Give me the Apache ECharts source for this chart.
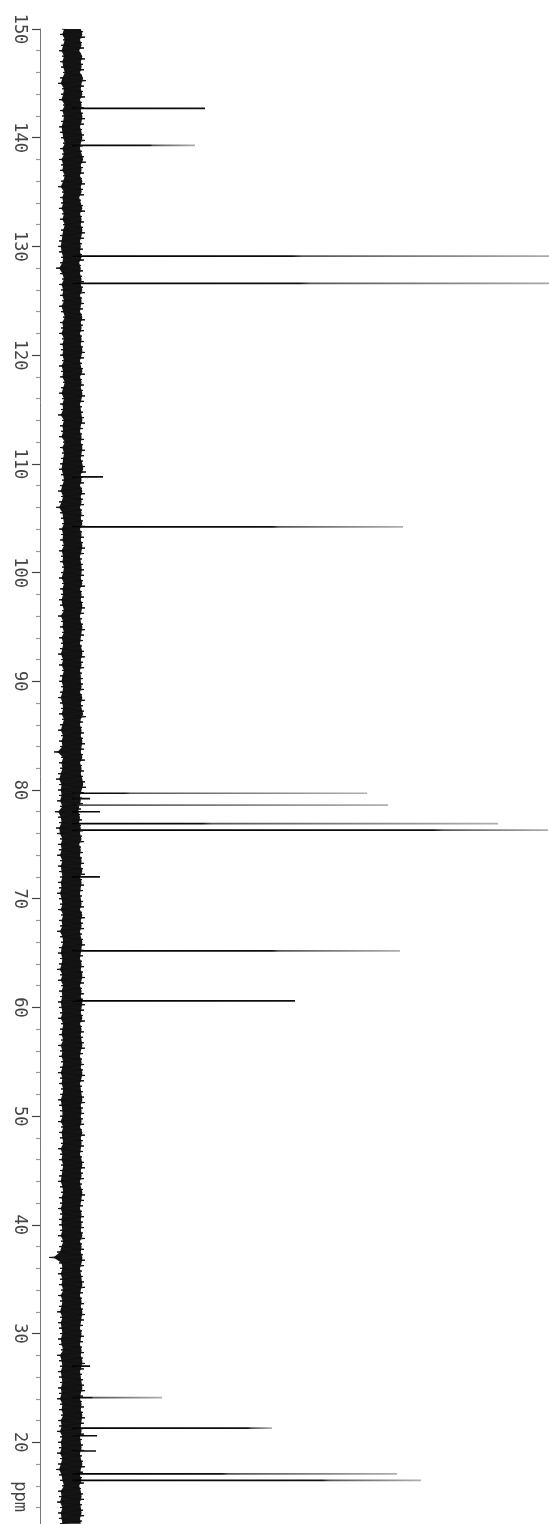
<!DOCTYPE html>
<html><head><meta charset="utf-8">
<script src="https://cdn.jsdelivr.net/npm/echarts@6/dist/echarts.min.js"></script>
<style>html,body{margin:0;padding:0;background:#fff}#c{width:549px;height:1524px}</style>
</head><body><div id="c"></div>
<script>
// ---- axis ----
const tickLabels = [150, 140, 130, 120, 110, 100, 90, 80, 70, 60, 50, 40, 30, 20];
const axisUnit = 'ppm';

// ---- baseline noise envelope (0.5 ppm steps from 150 down to 12.5) ----
const noiseStartPpm = 150;
const noiseStepPpm = 0.5;
const noiseLeft = [
 -10,-12,-9,-11,-13,-10,-12,-11,-9,-12,-14,-10,-11,-13,-9,-12,-10,-11,-13,-12,
 -11,-9,-12,-10,-13,-11,-12,-9,-11,-14,-10,-12,-11,-13,-10,-12,-9,-11,-12,-13,
 -14,-13,-11,-12,-16,-12,-10,-13,-11,-12,-10,-13,-11,-9,-12,-11,-13,-10,-12,-11,
 -12,-10,-13,-11,-12,-9,-11,-13,-10,-12,-11,-14,-10,-12,-11,-13,-9,-12,-10,-11,
 -12,-13,-11,-10,-12,-14,-11,-13,-16,-12,-11,-10,-13,-11,-12,-10,-13,-11,-12,-10,
 -11,-13,-10,-12,-11,-13,-12,-10,-14,-11,-12,-10,-13,-11,-12,-14,-11,-13,-10,-12,
 -13,-11,-12,-14,-12,-11,-13,-10,-12,-14,-11,-13,-12,-18,-11,-13,-12,-14,-16,-13,
 -14,-13,-15,-12,-17,-14,-13,-16,-15,-12,-14,-13,-15,-12,-14,-13,-12,-14,-13,-15,
 -13,-12,-14,-11,-13,-12,-15,-12,-11,-13,-14,-12,-13,-15,-12,-14,-11,-13,-12,-14,
 -13,-12,-14,-11,-12,-13,-11,-14,-12,-13,-11,-12,-14,-12,-13,-11,-12,-14,-13,-12,
 -12,-14,-11,-13,-12,-11,-14,-12,-13,-11,-12,-13,-14,-12,-11,-13,-12,-14,-12,-13,
 -13,-12,-14,-11,-13,-15,-23,-13,-12,-14,-12,-13,-11,-14,-12,-13,-15,-12,-14,-13,
 -12,-14,-13,-11,-15,-13,-12,-14,-13,-12,-14,-13,-15,-12,-13,-11,-14,-13,-15,-12,
 -14,-13,-15,-12,-14,-16,-13,-12,-10,-14,-13,-15,-12,-14,-13,-12
];
const noiseRight = [
 11,13,10,12,9,13,11,12,10,14,12,11,13,10,12,11,13,12,10,12,
 13,11,10,12,14,11,12,10,13,11,12,9,11,13,10,12,11,13,12,10,
 11,10,12,9,11,10,12,11,13,10,12,11,10,13,11,12,10,12,11,13,
 12,10,11,13,10,12,11,13,12,10,11,12,13,11,10,12,11,13,12,11,
 13,14,11,12,10,13,11,12,10,12,11,13,10,12,11,13,12,10,11,12,
 12,11,13,10,12,11,13,12,10,11,13,12,11,10,12,13,11,12,10,11,
 11,12,10,13,11,12,14,11,10,12,11,13,12,11,13,10,12,11,13,14,
 12,10,11,9,8,10,9,11,10,12,9,11,10,12,11,13,10,12,11,10,
 11,12,10,13,11,12,10,11,13,12,11,10,12,11,13,12,10,12,11,13,
 12,11,13,10,12,11,12,13,11,10,12,11,13,12,10,11,12,13,11,12,
 11,12,10,13,11,12,11,10,12,13,11,12,10,11,13,12,11,10,12,11,
 12,11,13,10,12,11,13,12,10,11,12,13,11,10,12,11,13,12,11,10,
 12,11,10,12,11,13,12,10,11,12,13,11,10,12,11,13,12,11,12,10,
 11,12,10,11,13,11,10,12,9,11,12,10,11,12,10,11
];

// ---- peaks: position (ppm), full height, and height of the dark part ----
const peakPpm    = [142.7, 139.3, 129.1, 126.6, 108.8, 104.2, 79.7, 79.2, 78.6, 78.0, 76.9, 76.3, 72.0, 65.2, 60.6, 27.0, 24.1, 21.3, 20.6, 19.2, 17.1, 16.5];
const peakHeight = [133,   123,   490,   500,   31,    331,   295,  18,   316,  28,   426,  476,  28,   328,  223,  18,   90,   200,  25,   24,   325,  349];
const peakDark   = [133,   78,    220,   228,   31,    200,   53,   18,   5,    28,   131,  361,  28,   200,  223,  18,   20,   175,  25,   24,   150,  250];

const chart = echarts.init(document.getElementById('c'), null, {renderer: 'canvas'});

// zig-zag trace through the noise envelope
const noiseTrace = [];
for (let k = 0; k < noiseLeft.length; k++) {
  const p = noiseStartPpm - noiseStepPpm * k;
  noiseTrace.push([noiseLeft[k], p]);
  noiseTrace.push([noiseRight[k], p - noiseStepPpm / 2]);
}

const option = {
  animation: false,
  backgroundColor: '#ffffff',
  grid: {left: 40, right: 0, top: 29, bottom: -27, outerBoundsMode: 'none'},
  xAxis: {type: 'value', min: -32, max: 477, show: false, splitLine: {show: false}},
  yAxis: {
    type: 'value', min: 10, max: 150, interval: 10, position: 'left',
    splitLine: {show: false},
    axisLine: {show: true, onZero: false, lineStyle: {color: '#777', width: 1}},
    axisTick: {show: true, length: 8, lineStyle: {color: '#444', width: 1.2}},
    minorTick: {show: true, splitNumber: 5, length: 4, lineStyle: {color: '#999', width: 1.2}},
    axisLabel: {
      rotate: -90, margin: 12, fontFamily: 'DejaVu Sans Mono', fontSize: 17, color: '#444',
      formatter: v => tickLabels.includes(v) ? String(v) : ''
    }
  },
  series: [
    {
      type: 'custom', name: 'noiseCore', silent: true, clip: true,
      data: [0],
      renderItem: function (params, api) {
        const pts = [];
        for (let k = 0; k < noiseLeft.length; k++) {
          pts.push(api.coord([noiseLeft[k] * 0.8, noiseStartPpm - noiseStepPpm * k]));
        }
        for (let k = noiseRight.length - 1; k >= 0; k--) {
          pts.push(api.coord([noiseRight[k] * 0.8, noiseStartPpm - noiseStepPpm * k]));
        }
        return {type: 'polygon', shape: {points: pts}, style: {fill: '#151515'}};
      }
    },
    {
      type: 'line', name: 'noise', silent: true, symbol: 'none',
      data: noiseTrace,
      lineStyle: {color: '#111', width: 1}
    },
    {
      type: 'custom', name: 'peaks', silent: true, clip: true,
      data: peakPpm.map((p, i) => [p, peakHeight[i], peakDark[i]]),
      renderItem: function (params, api) {
        const p = api.value(0), h = api.value(1), d = api.value(2);
        const a = api.coord([0, p]);
        const b = api.coord([h, p]);
        const f = Math.max(0, Math.min(1, d / h));
        const grad = new echarts.graphic.LinearGradient(0, 0, 1, 0, [
          {offset: 0, color: '#000'},
          {offset: f, color: '#111'},
          {offset: Math.min(1, f + 0.02), color: '#555'},
          {offset: 1, color: '#b0b0b0'}
        ]);
        return {type: 'line', shape: {x1: a[0], y1: a[1], x2: b[0], y2: b[1]},
                style: {stroke: grad, lineWidth: 1.7}};
      }
    }
  ]
};
chart.setOption(option);

// axis unit label placed where the axis reaches ~15 ppm
const pos = chart.convertToPixel({gridIndex: 0}, [-32, 15]);
chart.setOption({
  graphic: [{
    type: 'text', x: pos[0] - 21, y: pos[1], rotation: -Math.PI / 2,
    style: {text: axisUnit, fontFamily: 'DejaVu Sans Mono', fontSize: 17, fill: '#444',
            align: 'center', verticalAlign: 'middle'}
  }]
});
</script>
</body></html>
